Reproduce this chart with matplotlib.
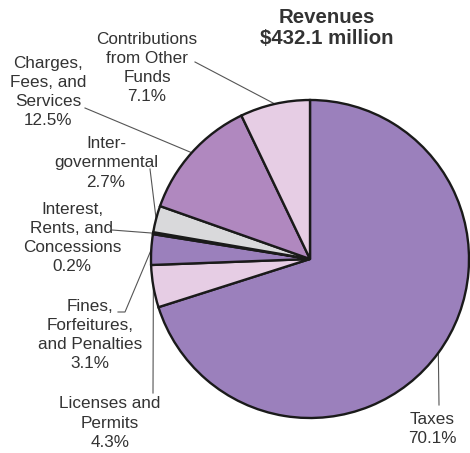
import numpy as np
import matplotlib
matplotlib.use("Agg")
import matplotlib.pyplot as plt
from matplotlib.lines import Line2D

plt.rcParams['font.family'] = ['Liberation Sans', 'DejaVu Sans']

# revenue shares, clockwise from 12 o'clock
categories = ["Taxes", "Licenses and\nPermits", "Fines,\nForfeitures,\nand Penalties",
              "Interest,\nRents, and\nConcessions", "Inter-\ngovernmental",
              "Charges,\nFees, and\nServices", "Contributions\nfrom Other\nFunds"]
shares = [70.1, 4.3, 3.1, 0.2, 2.7, 12.5, 7.1]
colors = ["#9b80bc", "#e6cde4", "#9b80bc", "#9b80bc", "#d9d9db", "#b088bf", "#e6cde4"]
title = "Revenues\n$432.1 million"

W, H = 470, 453
fig = plt.figure(figsize=(W / 100, H / 100), dpi=100)

# pie centre (310, 259) px, radius 159 px
cx, cy, r = 310, 259, 159
ax = fig.add_axes([(cx - r) / W, (H - cy - r) / H, 2 * r / W, 2 * r / H])
wedges, _ = ax.pie(shares, colors=colors, startangle=90, counterclock=False,
                   wedgeprops=dict(edgecolor="#1a1a1a", linewidth=1.7))
for w in wedges:
    w.set_clip_on(False)
ax.set_xlim(-1, 1)
ax.set_ylim(-1, 1)
ax.axis("off")


def px(x, y):
    return x / W, 1 - y / H


# label block centres and leader start points (pixels)
label_pos = [(432, 429), (110, 423), (90, 335), (72, 238), (106, 163), (48, 92), (147, 68)]
leader_from = [[(439, 405)], [(153, 393)], [(118, 312), (125, 312)], [(112, 230)],
               [(150, 169)], [(85, 108)], [(195, 62)]]

tc = "#333333"
cum = 0.0
for name, val, (lx, ly), pts in zip(categories, shares, label_pos, leader_from):
    mid = cum + val / 2
    cum += val
    ang = np.deg2rad(90 - 360 * mid / 100)
    ex, ey = ax.transData.transform((np.cos(ang), np.sin(ang)))
    fx, fy = fig.transFigure.inverted().transform((ex, ey))
    xs = [px(*p)[0] for p in pts] + [fx]
    ys = [px(*p)[1] for p in pts] + [fy]
    fig.add_artist(Line2D(xs, ys, color="#555555", lw=0.8, zorder=0))
    fig.text(*px(lx, ly), f"{name}\n{val:.1f}%", ha="center", va="center",
             multialignment="center", fontsize=12.3, color=tc, linespacing=1.34)

fig.text(*px(327, 28), title, ha="center", va="center", fontsize=14.7,
         fontweight="bold", color=tc, linespacing=1.15)

fig.savefig("out.png", dpi=100)
